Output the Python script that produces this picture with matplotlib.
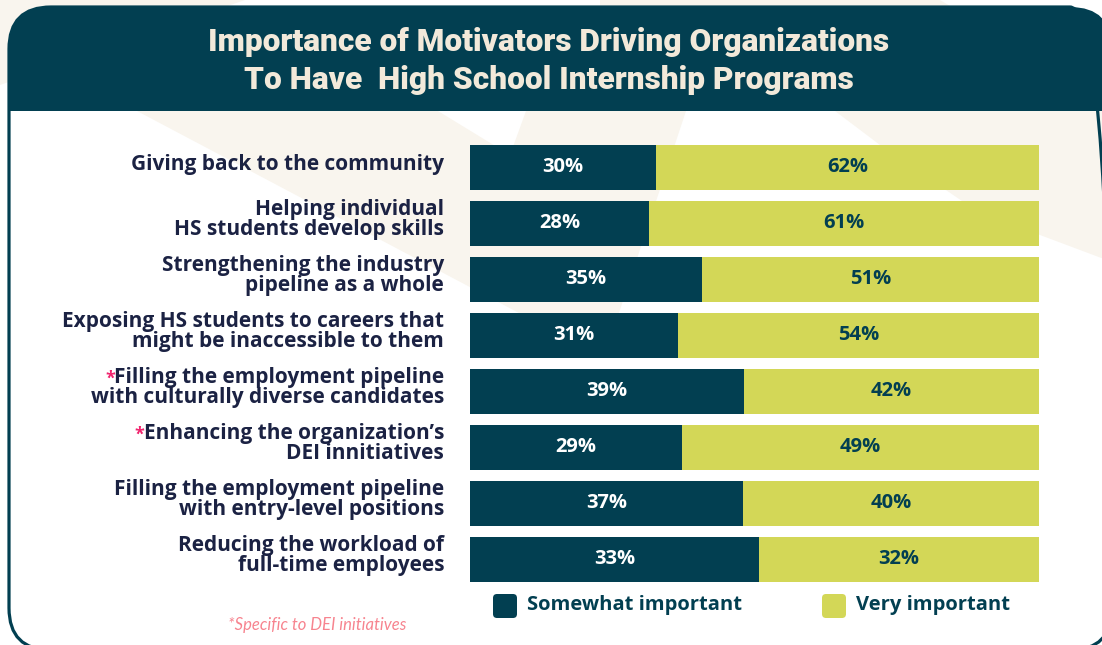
import matplotlib.pyplot as plt
from matplotlib.patches import FancyBboxPatch, Polygon, Rectangle

# Chart data
categories = [
    "Giving back to the community",
    "Helping individual\nHS students develop skills",
    "Strengthening the industry\npipeline as a whole",
    "Exposing HS students to careers that\nmight be inaccessible to them",
    "Filling the employment pipeline\nwith culturally diverse candidates",
    "Enhancing the organization\u2019s\nDEI innitiatives",
    "Filling the employment pipeline\nwith entry-level positions",
    "Reducing the workload of\nfull-time employees",
]
somewhat = [30, 28, 35, 31, 39, 29, 37, 33]
very = [62, 61, 51, 54, 42, 49, 40, 32]
dei_specific = [False, False, False, False, True, True, False, False]
series_names = ["Somewhat important", "Very important"]

title_lines = ["Importance of Motivators Driving Organizations",
               "To Have  High School Internship Programs"]
footnote = "*Specific to DEI initiatives"

# Colours
TEAL = "#023f51"
YELLOW = "#d3d757"
NAVY = "#1b2243"
BEIGE = "#f9f5ee"
CREAM = "#f2e9da"
PINK = "#f0246e"
PINK_LIGHT = "#f7848f"

FONT = "Open Sans"
W, H = 1102, 645


def Y(y):
    # pixel row measured from the top -> data y measured from the bottom
    return H - y


fig = plt.figure(figsize=(W / 100, H / 100), dpi=100)
fig.patch.set_facecolor("white")

# background layer in pixel coordinates
bg = fig.add_axes([0, 0, 1, 1], zorder=0)
bg.set_xlim(0, W)
bg.set_ylim(0, H)
bg.axis("off")

bg.add_patch(Polygon([(0, Y(0)), (245, Y(0)), (0, Y(85))], color=BEIGE, lw=0))
bg.add_patch(Polygon([(600, Y(0)), (940, Y(0)), (960, Y(12)), (600, Y(12))], color=BEIGE, lw=0))

box = dict(boxstyle="round,pad=0,rounding_size=42")
card_x, card_top, card_bottom, card_right = 9, 7, 650, 1112
card = FancyBboxPatch((card_x, Y(card_bottom)), card_right - card_x, card_bottom - card_top,
                      facecolor="white", edgecolor="none", **box)
bg.add_patch(card)

rays = [
    [(137, 111), (438, 111), (510, 155), (526, 111), (686, 111), (604, 358)],
    [(835, 111), (1112, 111), (1112, 262), (1040, 235), (962, 201), (880, 145)],
]
for pts in rays:
    p = Polygon([(x, Y(y)) for x, y in pts], color=BEIGE, lw=0)
    bg.add_patch(p)
    p.set_clip_path(card)

header = FancyBboxPatch((card_x, Y(card_bottom)), card_right - card_x, card_bottom - card_top,
                        facecolor=TEAL, edgecolor="none", **box)
bg.add_patch(header)
header.set_clip_path(Rectangle((0, Y(111)), W, 111, transform=bg.transData))

border = FancyBboxPatch((card_x, Y(card_bottom)), card_right - card_x, card_bottom - card_top,
                        facecolor="none", edgecolor=TEAL, lw=2.3, **box)
bg.add_patch(border)

for y, line in zip([42, 80], title_lines):
    bg.text(549, Y(y), line, ha="center", va="center", color=CREAM,
            fontsize=22.8, fontweight="black", family="Roboto")

# bar axes
ax = fig.add_axes([470 / W, 1 - 587.5 / H, 569 / W, 448 / H], zorder=2)
ax.set_xlim(0, 1)
ax.set_ylim(len(categories) - 0.5, -0.5)
ax.axis("off")

rows = list(range(len(categories)))
totals = [s + v for s, v in zip(somewhat, very)]
share_s = [s / t for s, t in zip(somewhat, totals)]
share_v = [v / t for v, t in zip(very, totals)]

ax.barh(rows, share_s, height=45 / 56, color=TEAL, label=series_names[0])
ax.barh(rows, share_v, left=share_s, height=45 / 56, color=YELLOW, label=series_names[1])

for i in rows:
    ax.text(share_s[i] / 2, i, f"{somewhat[i]}%", ha="center", va="center",
            color="white", fontsize=14.5, fontweight="bold", family=FONT)
    ax.text(share_s[i] + share_v[i] / 2, i, f"{very[i]}%", ha="center", va="center",
            color=TEAL, fontsize=14.5, fontweight="bold", family=FONT)

# category labels, one text per line
first_lines = []
for i, label in enumerate(categories):
    lines = label.split("\n")
    if len(lines) == 1:
        offsets = [-1.8]
    else:
        offsets = [6.1, -8.6]
    texts = []
    for line, dy in zip(lines, offsets):
        t = ax.annotate(line, xy=(0, i), xytext=(-18.7, dy), textcoords="offset points",
                        ha="right", va="baseline", color=NAVY, fontsize=15,
                        fontweight="bold", family=FONT)
        texts.append(t)
    first_lines.append(texts[0])

fig.canvas.draw()
renderer = fig.canvas.get_renderer()
for i, flag in enumerate(dei_specific):
    if flag:
        bb = first_lines[i].get_window_extent(renderer)
        bg.text(bb.x0 + 1, bb.y0 + 4, "*", ha="right", va="baseline", color=PINK,
                fontsize=13, fontweight="bold", family=FONT)

# legend
for x, col, name in [(493, TEAL, series_names[0]), (822, YELLOW, series_names[1])]:
    bg.add_patch(FancyBboxPatch((x, Y(618)), 24, 24, boxstyle="round,pad=0,rounding_size=4",
                                facecolor=col, edgecolor="none"))
    bg.text(x + 34, Y(605), name, ha="left", va="center", color=TEAL,
            fontsize=14.5, fontweight="bold", family=FONT)

bg.text(317, Y(625), footnote, ha="center", va="center", color=PINK_LIGHT,
        fontsize=12, fontstyle="italic", family="Lato")

fig.savefig("out.png", dpi=100)
